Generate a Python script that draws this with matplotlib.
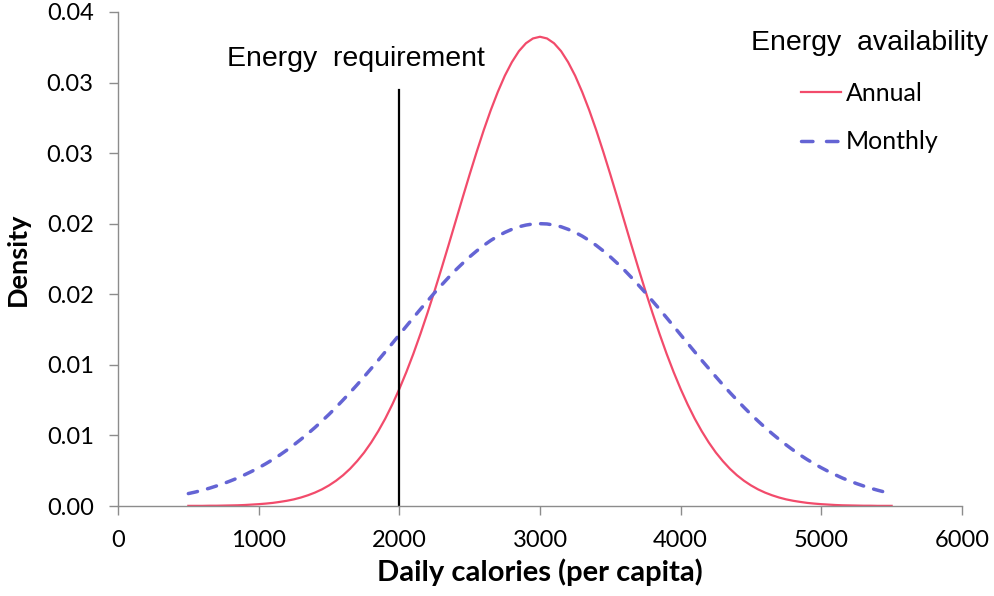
"""
Densidad de calorias diarias per capita: disponibilidad anual vs mensual,
con la linea del requerimiento energetico.
"""

import matplotlib
matplotlib.use("Agg")
import matplotlib.pyplot as plt


# calorias diarias (eje x), cada 50
calorias = [500, 550, 600, 650, 700, 750, 800, 850, 900, 950,
            1000, 1050, 1100, 1150, 1200, 1250, 1300, 1350, 1400, 1450,
            1500, 1550, 1600, 1650, 1700, 1750, 1800, 1850, 1900, 1950,
            2000, 2050, 2100, 2150, 2200, 2250, 2300, 2350, 2400, 2450,
            2500, 2550, 2600, 2650, 2700, 2750, 2800, 2850, 2900, 2950,
            3000,
            3050, 3100, 3150, 3200, 3250, 3300, 3350, 3400, 3450, 3500,
            3550, 3600, 3650, 3700, 3750, 3800, 3850, 3900, 3950, 4000,
            4050, 4100, 4150, 4200, 4250, 4300, 4350, 4400, 4450, 4500,
            4550, 4600, 4650, 4700, 4750, 4800, 4850, 4900, 4950, 5000,
            5050, 5100, 5150, 5200, 5250, 5300, 5350, 5400, 5450, 5500]

# densidad
anual = [0.00001, 0.00001, 0.00001, 0.00002, 0.00002, 0.00003, 0.00004, 0.00005, 0.00007, 0.00010,
         0.00013, 0.00017, 0.00022, 0.00029, 0.00037, 0.00047, 0.00060, 0.00076, 0.00095, 0.00118,
         0.00146, 0.00179, 0.00218, 0.00264, 0.00318, 0.00379, 0.00450, 0.00530, 0.00619, 0.00719,
         0.00829, 0.00949, 0.01079, 0.01219, 0.01367, 0.01522, 0.01683, 0.01848, 0.02016, 0.02184,
         0.02349, 0.02509, 0.02662, 0.02804, 0.02933, 0.03048, 0.03144, 0.03222, 0.03278, 0.03312,
         0.03324,
         0.03312, 0.03278, 0.03222, 0.03144, 0.03048, 0.02933, 0.02804, 0.02662, 0.02509, 0.02349,
         0.02184, 0.02016, 0.01848, 0.01683, 0.01522, 0.01367, 0.01219, 0.01079, 0.00949, 0.00829,
         0.00719, 0.00619, 0.00530, 0.00450, 0.00379, 0.00318, 0.00264, 0.00218, 0.00179, 0.00146,
         0.00118, 0.00095, 0.00076, 0.00060, 0.00047, 0.00037, 0.00029, 0.00022, 0.00017, 0.00013,
         0.00010, 0.00007, 0.00005, 0.00004, 0.00003, 0.00002, 0.00002, 0.00001, 0.00001, 0.00001]

mensual = [0.00088, 0.00099, 0.00112, 0.00126, 0.00142, 0.00159, 0.00178, 0.00198, 0.00221, 0.00245,
           0.00271, 0.00299, 0.00329, 0.00361, 0.00396, 0.00433, 0.00472, 0.00513, 0.00556, 0.00602,
           0.00649, 0.00699, 0.00751, 0.00804, 0.00859, 0.00916, 0.00974, 0.01032, 0.01092, 0.01152,
           0.01213, 0.01274, 0.01334, 0.01394, 0.01452, 0.01510, 0.01565, 0.01619, 0.01671, 0.01719,
           0.01765, 0.01807, 0.01846, 0.01881, 0.01912, 0.01938, 0.01960, 0.01978, 0.01990, 0.01998,
           0.02000,
           0.01998, 0.01990, 0.01978, 0.01960, 0.01938, 0.01912, 0.01881, 0.01846, 0.01807, 0.01765,
           0.01719, 0.01671, 0.01619, 0.01565, 0.01510, 0.01452, 0.01394, 0.01334, 0.01274, 0.01213,
           0.01152, 0.01092, 0.01032, 0.00974, 0.00916, 0.00859, 0.00804, 0.00751, 0.00699, 0.00649,
           0.00602, 0.00556, 0.00513, 0.00472, 0.00433, 0.00396, 0.00361, 0.00329, 0.00299, 0.00271,
           0.00245, 0.00221, 0.00198, 0.00178, 0.00159, 0.00142, 0.00126, 0.00112, 0.00099, 0.00088]

# requerimiento energetico (linea vertical)
req_x = 2000
req_top = 0.0295

x_ticks = [0, 1000, 2000, 3000, 4000, 5000, 6000]
y_ticks = [0.0, 0.005, 0.01, 0.015, 0.02, 0.025, 0.03, 0.035]
y_labels = ["0.00", "0.01", "0.01", "0.02", "0.02", "0.03", "0.03", "0.04"]

ROJO = "#F24B6B"
AZUL = "#6464D4"
GRIS = "#8C8C8C"
FUENTE = ["Lato", "DejaVu Sans"]
FUENTE_TXT = ["Liberation Sans", "DejaVu Sans"]


def main():
    fig = plt.figure(figsize=(9.95, 5.96), dpi=100)
    ax = fig.add_axes([0.1186, 0.151, 0.8482, 0.829])

    ax.plot(calorias, anual, color=ROJO, lw=1.6, label="Annual")
    ax.plot(calorias, mensual, color=AZUL, lw=2.5, ls=(0, (2.7, 3.0)),
            dash_capstyle="round", label="Monthly")
    ax.plot([req_x, req_x], [0, req_top], color="black", lw=1.6)

    ax.text(1692, 0.0317, "Energy  requirement", ha="center", va="center",
            fontsize=20.5, family=FUENTE_TXT)

    ax.set_xlim(0, 6000)
    ax.set_ylim(0, 0.035)
    ax.set_xticks(x_ticks)
    ax.set_yticks(y_ticks)
    ax.set_yticklabels(y_labels)
    for lab in ax.get_xticklabels() + ax.get_yticklabels():
        lab.set_family(FUENTE)
        lab.set_fontsize(17)

    for lado in ["top", "right"]:
        ax.spines[lado].set_visible(False)
    for lado in ["left", "bottom"]:
        ax.spines[lado].set_color(GRIS)
        ax.spines[lado].set_linewidth(1.0)
    ax.tick_params(direction="out", length=6.5, width=1.0, color=GRIS, pad=11)

    ax.set_xlabel("Daily calories (per capita)", fontsize=21, fontweight="bold",
                  family=FUENTE, labelpad=5)
    ax.set_ylabel("Density", fontsize=19.5, fontweight="bold",
                  family=FUENTE, labelpad=12)

    leg = ax.legend(title="Energy  availability", loc="upper right",
                    bbox_to_anchor=(1.058, 1.008), frameon=False,
                    prop={"family": FUENTE, "size": 18},
                    title_fontproperties={"family": FUENTE_TXT, "size": 20.5},
                    handlelength=1.6, handletextpad=0.2, labelspacing=1.02)
    # en la leyenda el guion del mensual se ve como dos trazos
    leg.get_lines()[1].set_linestyle((0, (3.3, 3.9)))

    fig.savefig("out.png", dpi=100)


if __name__ == "__main__":
    main()
